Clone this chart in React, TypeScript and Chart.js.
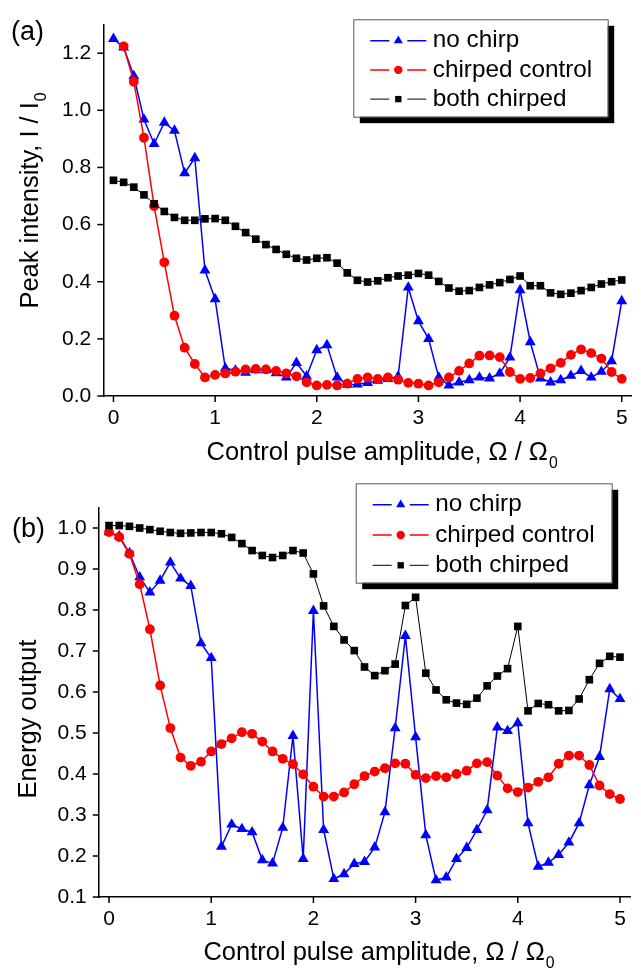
import React, { useEffect, useRef } from "react";
import { Chart, registerables } from "chart.js";

Chart.register(...registerables);

// ---------------- data ----------------
const xValues = [
  0, 0.1, 0.2, 0.3, 0.4, 0.5, 0.6, 0.7, 0.8, 0.9,
  1.0, 1.1, 1.2, 1.3, 1.4, 1.5, 1.6, 1.7, 1.8, 1.9,
  2.0, 2.1, 2.2, 2.3, 2.4, 2.5, 2.6, 2.7, 2.8, 2.9,
  3.0, 3.1, 3.2, 3.3, 3.4, 3.5, 3.6, 3.7, 3.8, 3.9,
  4.0, 4.1, 4.2, 4.3, 4.4, 4.5, 4.6, 4.7, 4.8, 4.9,
  5.0,
];

const seriesLabels = ["no chirp", "chirped control", "both chirped"];

// (a) Peak intensity
const noChirpPeak = [
  1.25, 1.22, 1.12, 0.968, 0.883, 0.957, 0.929, 0.78, 0.833, 0.44,
  0.339, 0.097, 0.089, 0.082, 0.091, 0.091, 0.08, 0.065, 0.116, 0.069,
  0.161, 0.178, 0.065, 0.04, 0.041, 0.046, 0.054, 0.06, 0.068, 0.38,
  0.262, 0.2, 0.065, 0.037, 0.048, 0.056, 0.065, 0.062, 0.079, 0.135,
  0.371, 0.189, 0.062, 0.048, 0.056, 0.071, 0.088, 0.065, 0.085, 0.122,
  0.332,
];
const chirpedControlPeak = [
  null, 1.224, 1.1, 0.904, 0.665, 0.468, 0.281, 0.169, 0.112, 0.065,
  0.074, 0.079, 0.085, 0.093, 0.095, 0.093, 0.088, 0.079, 0.069, 0.048,
  0.037, 0.039, 0.037, 0.043, 0.06, 0.065, 0.06, 0.065, 0.057, 0.046,
  0.043, 0.037, 0.048, 0.065, 0.088, 0.114, 0.141, 0.142, 0.136, 0.084,
  0.06, 0.063, 0.079, 0.097, 0.116, 0.144, 0.163, 0.15, 0.131, 0.084,
  0.06,
];
const bothChirpedPeak = [
  0.755, 0.748, 0.731, 0.704, 0.673, 0.646, 0.625, 0.615, 0.615, 0.62,
  0.621, 0.615, 0.594, 0.572, 0.549, 0.53, 0.513, 0.496, 0.482, 0.476,
  0.482, 0.484, 0.465, 0.431, 0.405, 0.399, 0.403, 0.414, 0.42, 0.423,
  0.429, 0.423, 0.401, 0.378, 0.367, 0.369, 0.38, 0.389, 0.397, 0.408,
  0.42, 0.386, 0.386, 0.361, 0.356, 0.36, 0.369, 0.38, 0.392, 0.4,
  0.406,
];

// (b) Energy output
const noChirpEnergy = [
  0.99, 0.98, 0.939, 0.88, 0.843, 0.872, 0.916, 0.877, 0.859, 0.719,
  0.683, 0.223, 0.277, 0.266, 0.258, 0.19, 0.182, 0.269, 0.493, 0.193,
  0.798, 0.264, 0.144, 0.156, 0.181, 0.186, 0.221, 0.307, 0.512, 0.737,
  0.49, 0.251, 0.141, 0.148, 0.193, 0.22, 0.264, 0.312, 0.514, 0.505,
  0.524, 0.28, 0.174, 0.184, 0.203, 0.233, 0.28, 0.373, 0.442, 0.607,
  0.583,
];
const chirpedControlEnergy = [
  0.99, 0.978, 0.937, 0.863, 0.753, 0.616, 0.512, 0.44, 0.42, 0.43,
  0.455, 0.473, 0.487, 0.502, 0.498, 0.479, 0.455, 0.437, 0.424, 0.399,
  0.369, 0.345, 0.345, 0.355, 0.375, 0.395, 0.406, 0.414, 0.426, 0.425,
  0.398, 0.39, 0.395, 0.392, 0.4, 0.408, 0.426, 0.429, 0.396, 0.365,
  0.356, 0.367, 0.381, 0.392, 0.425, 0.445, 0.445, 0.422, 0.372, 0.351,
  0.339,
];
const bothChirpedEnergy = [
  1.006, 1.006, 1.004, 1.0, 0.996, 0.992, 0.989, 0.987, 0.988, 0.989,
  0.989, 0.986, 0.977, 0.962, 0.945, 0.933, 0.928, 0.933, 0.945, 0.939,
  0.888, 0.81, 0.76, 0.727, 0.701, 0.661, 0.64, 0.652, 0.668, 0.811,
  0.831, 0.646, 0.605, 0.581, 0.573, 0.57, 0.585, 0.615, 0.639, 0.657,
  0.76, 0.554, 0.572, 0.569, 0.554, 0.555, 0.583, 0.63, 0.67, 0.687,
  0.685,
];

// tick labels
const xTickValues = [0, 1, 2, 3, 4, 5];
const xTickLabels = ["0", "1", "2", "3", "4", "5"];
const peakTickValues = [0, 0.2, 0.4, 0.6, 0.8, 1.0, 1.2];
const peakTickLabels = ["0.0", "0.2", "0.4", "0.6", "0.8", "1.0", "1.2"];
const energyTickValues = [0.1, 0.2, 0.3, 0.4, 0.5, 0.6, 0.7, 0.8, 0.9, 1.0];
const energyTickLabels = ["0.1", "0.2", "0.3", "0.4", "0.5", "0.6", "0.7", "0.8", "0.9", "1.0"];

// ---------------- styling ----------------
const FONT = "'Liberation Sans', Arial, Helvetica, sans-serif";
const BLUE = "#0000ff";
const RED = "#ff0000";
const BLACK = "#000000";

function labelFor(v: number, values: number[], labels: string[]) {
  for (let i = 0; i < values.length; i++) {
    if (Math.abs(values[i] - v) < 1e-6) return labels[i];
  }
  return null;
}

function toPoints(arr: (number | null)[]) {
  const pts: { x: number; y: number }[] = [];
  xValues.forEach((x, i) => {
    const y = arr[i];
    if (y !== null && y !== undefined) pts.push({ x, y });
  });
  return pts;
}

function drawMarker(ctx: CanvasRenderingContext2D, style: string, x: number, y: number, r: number) {
  ctx.beginPath();
  if (style === "triangle") {
    ctx.moveTo(x, y - r);
    ctx.lineTo(x + r * 0.866, y + r * 0.5);
    ctx.lineTo(x - r * 0.866, y + r * 0.5);
    ctx.closePath();
  } else if (style === "circle") {
    ctx.arc(x, y, r, 0, Math.PI * 2);
  } else {
    const s = r * Math.SQRT1_2;
    ctx.rect(x - s, y - s, 2 * s, 2 * s);
  }
  ctx.fill();
}

function drawTextWithSub(
  ctx: CanvasRenderingContext2D,
  main: string,
  sub: string,
  size: number,
  cx: number,
  baseY: number
) {
  ctx.font = `${size}px ${FONT}`;
  const wMain = ctx.measureText(main).width;
  ctx.font = `${size * 0.62}px ${FONT}`;
  const wSub = ctx.measureText(sub).width;
  const total = wMain + wSub;
  const start = cx - total / 2;
  ctx.textAlign = "left";
  ctx.textBaseline = "alphabetic";
  ctx.font = `${size}px ${FONT}`;
  ctx.fillText(main, start, baseY);
  ctx.font = `${size * 0.62}px ${FONT}`;
  ctx.fillText(sub, start + wMain + 1, baseY + size * 0.3);
}

const decorPlugin = {
  id: "decor",
  afterDraw(chart: any, _args: any, opts: any) {
    const ctx: CanvasRenderingContext2D = chart.ctx;
    const { left, right, bottom } = chart.chartArea;
    const xs = chart.scales.x;
    const ys = chart.scales.y;
    ctx.save();
    // tick marks
    ctx.strokeStyle = "#000";
    ctx.lineWidth = 1.5;
    xs.ticks.forEach((t: any) => {
      const px = xs.getPixelForValue(t.value);
      const len = t.label !== null && t.label !== undefined ? 6 : 3.5;
      ctx.beginPath();
      ctx.moveTo(px, bottom);
      ctx.lineTo(px, bottom + len);
      ctx.stroke();
    });
    ys.ticks.forEach((t: any) => {
      const py = ys.getPixelForValue(t.value);
      const len = t.label !== null && t.label !== undefined ? 6 : 3.5;
      ctx.beginPath();
      ctx.moveTo(left, py);
      ctx.lineTo(left - len, py);
      ctx.stroke();
    });

    ctx.fillStyle = "#000";
    // x title
    drawTextWithSub(ctx, opts.xTitle[0], opts.xTitle[1], opts.titleSize, (left + right) / 2 + opts.xTitleShift, bottom + opts.xTitleOffset);
    // y title (rotated)
    ctx.save();
    ctx.translate(opts.yTitleBaseX, opts.yTitleCenterY);
    ctx.rotate(-Math.PI / 2);
    drawTextWithSub(ctx, opts.yTitle[0], opts.yTitle[1], opts.titleSize, 0, 0);
    ctx.restore();

    // panel label
    ctx.font = `${opts.panelSize}px ${FONT}`;
    ctx.textAlign = "left";
    ctx.textBaseline = "middle";
    ctx.fillText(opts.panel, opts.panelX, opts.panelY);

    // legend
    const L = opts.legend;
    ctx.fillStyle = "#000";
    ctx.fillRect(L.x + 6.5, L.y + 6.5, L.w, L.h);
    ctx.fillStyle = "#fff";
    ctx.fillRect(L.x, L.y, L.w, L.h);
    ctx.strokeStyle = "#555";
    ctx.lineWidth = 1;
    ctx.strokeRect(L.x + 0.5, L.y + 0.5, L.w, L.h);
    chart.data.datasets.forEach((ds: any, i: number) => {
      const ry = L.y + L.rowStart + i * L.rowGap;
      ctx.strokeStyle = ds.borderColor;
      ctx.lineWidth = ds.borderWidth;
      ctx.beginPath();
      ctx.moveTo(L.x + 17, ry);
      ctx.lineTo(L.x + 36, ry);
      ctx.moveTo(L.x + 54, ry);
      ctx.lineTo(L.x + 73, ry);
      ctx.stroke();
      ctx.fillStyle = ds.borderColor;
      const mr = ds.pointStyle === "triangle" ? 5.3 : ds.pointStyle === "circle" ? 4.2 : 4.5;
      drawMarker(ctx, ds.pointStyle, L.x + 45, ry, mr);
      ctx.fillStyle = "#000";
      ctx.font = `${L.fontSize}px ${FONT}`;
      ctx.textAlign = "left";
      ctx.textBaseline = "middle";
      ctx.fillText(ds.label, L.x + 79.5, ry);
    });
    ctx.restore();
  },
};

type PanelSpec = {
  series: (number | null)[][];
  yMin: number;
  yMax: number;
  yStep: number;
  yTickValues: number[];
  yTickLabels: string[];
  padTop: number;
  padRight: number;
  yAxisWidth: number;
  xAxisHeight: number;
  decor: any;
};

function buildConfig(spec: PanelSpec): any {
  const colors = [BLUE, RED, BLACK];
  const styles = ["triangle", "circle", "rect"];
  const radii = [6.3, 4.9, 5.4];
  const widths = [1.5, 1.5, 1];
  const orders = [2, 1, 0];
  return {
    type: "line",
    data: {
      datasets: spec.series.map((arr, i) => ({
        label: seriesLabels[i],
        data: toPoints(arr),
        borderColor: colors[i],
        backgroundColor: colors[i],
        pointBackgroundColor: colors[i],
        borderWidth: widths[i],
        pointStyle: styles[i],
        pointRadius: radii[i],
        pointHoverRadius: radii[i],
        pointBorderWidth: 0,
        tension: 0,
        order: orders[i],
        clip: false,
      })),
    },
    options: {
      animation: false,
      responsive: false,
      maintainAspectRatio: false,
      devicePixelRatio: 1,
      events: [],
      layout: { padding: { top: spec.padTop, right: spec.padRight, left: 0, bottom: 0 } },
      plugins: {
        legend: { display: false },
        tooltip: { enabled: false },
        decor: spec.decor,
      },
      scales: {
        x: {
          type: "linear",
          min: -0.1,
          max: 5.1,
          ticks: {
            stepSize: 0.5,
            includeBounds: false,
            autoSkip: false,
            maxRotation: 0,
            padding: 10,
            color: "#000",
            font: { family: FONT, size: 21 },
            callback: (v: number) => labelFor(v, xTickValues, xTickLabels),
          },
          grid: { drawOnChartArea: false, drawTicks: false },
          border: { color: "#000", width: 1.5 },
          afterFit: (s: any) => {
            s.height = spec.xAxisHeight;
          },
        },
        y: {
          type: "linear",
          min: spec.yMin,
          max: spec.yMax,
          ticks: {
            stepSize: spec.yStep,
            autoSkip: false,
            padding: 12,
            color: "#000",
            font: { family: FONT, size: 21 },
            callback: (v: number) => labelFor(v, spec.yTickValues, spec.yTickLabels),
          },
          grid: { drawOnChartArea: false, drawTicks: false },
          border: { color: "#000", width: 1.5 },
          afterFit: (s: any) => {
            s.width = spec.yAxisWidth;
          },
        },
      },
    },
    plugins: [decorPlugin],
  };
}

const panelA: PanelSpec = {
  series: [noChirpPeak, chirpedControlPeak, bothChirpedPeak],
  yMin: 0,
  yMax: 1.3,
  yStep: 0.1,
  yTickValues: peakTickValues,
  yTickLabels: peakTickLabels,
  padTop: 11,
  padRight: 9.1,
  yAxisWidth: 103.3,
  xAxisHeight: 74,
  decor: {
    xTitle: ["Control pulse amplitude, \u03A9 / \u03A9", "0"],
    yTitle: ["Peak intensity, I / I", "0"],
    titleSize: 25.5,
    xTitleShift: 14,
    xTitleOffset: 64,
    yTitleBaseX: 38,
    yTitleCenterY: 201,
    panel: "(a)",
    panelSize: 27,
    panelX: 11,
    panelY: 33,
    legend: { x: 353.3, y: 19.3, w: 254.4, h: 97.4, rowStart: 21.4, rowGap: 29.2, fontSize: 24.3 },
  },
};

const panelB: PanelSpec = {
  series: [noChirpEnergy, chirpedControlEnergy, bothChirpedEnergy],
  yMin: 0.1,
  yMax: 1.05,
  yStep: 0.05,
  yTickValues: energyTickValues,
  yTickLabels: energyTickLabels,
  padTop: 37.5,
  padRight: 10.8,
  yAxisWidth: 98.8,
  xAxisHeight: 76,
  decor: {
    xTitle: ["Control pulse amplitude, \u03A9 / \u03A9", "0"],
    yTitle: ["Energy output", ""],
    titleSize: 25.5,
    xTitleShift: 14,
    xTitleOffset: 63,
    yTitleBaseX: 35.5,
    yTitleCenterY: 249,
    panel: "(b)",
    panelSize: 27,
    panelX: 12,
    panelY: 60,
    legend: { x: 355.7, y: 13.3, w: 256, h: 99.4, rowStart: 21.4, rowGap: 30.3, fontSize: 24.3 },
  },
};

function Panel({ spec, top, height }: { spec: PanelSpec; top: number; height: number }) {
  const ref = useRef<HTMLCanvasElement>(null);
  useEffect(() => {
    const chart = new Chart(ref.current as HTMLCanvasElement, buildConfig(spec));
    return () => chart.destroy();
  }, [spec]);
  return (
    <canvas
      ref={ref}
      width={641}
      height={height}
      style={{ position: "absolute", left: 0, top, width: 641, height, display: "block" }}
    />
  );
}

export default function App() {
  return (
    <div
      style={{
        position: "absolute",
        left: 0,
        top: 0,
        width: 641,
        height: 973,
        background: "#ffffff",
        overflow: "hidden",
      }}
    >
      <Panel spec={panelA} top={0} height={470} />
      <Panel spec={panelB} top={470} height={503} />
    </div>
  );
}
